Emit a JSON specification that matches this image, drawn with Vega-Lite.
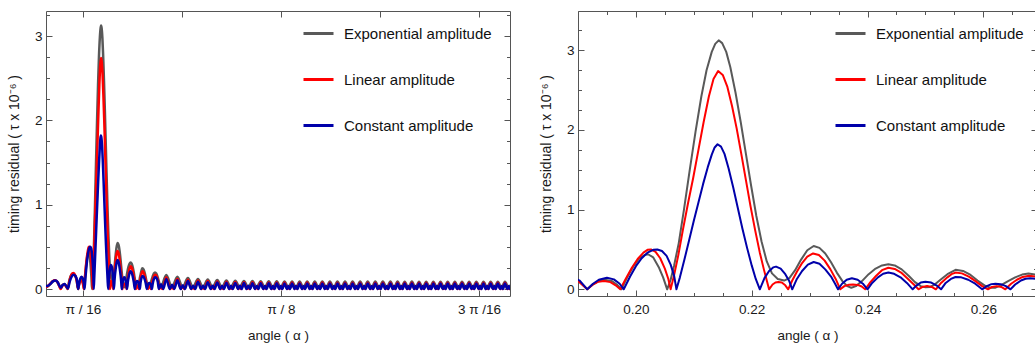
{
"$schema": "https://vega.github.io/schema/vega-lite/v6.json",
"padding": {"left": 6, "top": 10, "right": 0, "bottom": 0},
"config": {
 "font": "Liberation Sans",
 "view": {"stroke": "#555555", "strokeWidth": 1},
 "axis": {"domain": false, "grid": false, "tickColor": "#555555", "tickWidth": 1, "labelFontSize": 13.5, "labelColor": "#1a1a1a", "titleFontSize": 13.5, "titleFontWeight": "normal", "titleColor": "#1a1a1a", "labelFont": "Liberation Sans", "titleFont": "Liberation Sans"},
 "legend": {"labelFont": "Liberation Sans", "labelColor": "#111111"},
 "concat": {"spacing": 27}
},
"datasets": {
"e": [
{"x":0.1585,"y":0.03},{"x":0.161,"y":0.03},{"x":0.164,"y":0.06},{"x":0.1665,"y":0.09},{"x":0.1686,"y":0.1},{"x":0.171,"y":0.08},{"x":0.173,"y":0.035},{"x":0.1742,"y":0.012},{"x":0.176,"y":0.045},{"x":0.1778,"y":0.06},{"x":0.1796,"y":0.035},{"x":0.1812,"y":0},{"x":0.1828,"y":0.1},{"x":0.1848,"y":0.17},{"x":0.1867,"y":0.185},{"x":0.1885,"y":0.16},{"x":0.19,"y":0.115},{"x":0.1916,"y":0},
{"x":0.1925,"y":0.06},{"x":0.1935,"y":0.1},{"x":0.1946,"y":0.12},{"x":0.1958,"y":0.105},{"x":0.1967,"y":0.06},{"x":0.1975,"y":0},
{"x":0.1985,"y":0.15},{"x":0.1995,"y":0.28},{"x":0.2005,"y":0.38},{"x":0.2015,"y":0.43},{"x":0.2021,"y":0.44},{"x":0.203,"y":0.4},{"x":0.204,"y":0.27},{"x":0.2047,"y":0.15},{"x":0.2054,"y":0},
{"x":0.206,"y":0.12},{"x":0.2066,"y":0.3},{"x":0.2074,"y":0.58},{"x":0.2083,"y":1.0},{"x":0.2093,"y":1.5},{"x":0.2103,"y":1.98},{"x":0.2113,"y":2.42},{"x":0.2122,"y":2.75},{"x":0.2131,"y":2.98},{"x":0.2137,"y":3.08},{"x":0.2143,"y":3.125},{"x":0.2149,"y":3.09},{"x":0.2156,"y":2.98},{"x":0.2163,"y":2.79},{"x":0.2172,"y":2.47},{"x":0.2181,"y":2.1},{"x":0.219,"y":1.7},{"x":0.2199,"y":1.3},{"x":0.2208,"y":0.92},{"x":0.2217,"y":0.6},{"x":0.2226,"y":0.35},{"x":0.2235,"y":0.2},{"x":0.2245,"y":0.13},{"x":0.2256,"y":0.11},{"x":0.2265,"y":0.14},
{"x":0.2275,"y":0.24},{"x":0.2285,"y":0.37},{"x":0.2296,"y":0.49},{"x":0.2307,"y":0.544},{"x":0.2317,"y":0.52},{"x":0.2327,"y":0.45},{"x":0.2337,"y":0.34},{"x":0.2347,"y":0.21},{"x":0.2357,"y":0.1},{"x":0.2365,"y":0.04},{"x":0.2372,"y":0.02},{"x":0.238,"y":0.04},
{"x":0.239,"y":0.1},{"x":0.2402,"y":0.19},{"x":0.2414,"y":0.26},{"x":0.2425,"y":0.3},{"x":0.2436,"y":0.314},{"x":0.2447,"y":0.3},{"x":0.2459,"y":0.25},{"x":0.2471,"y":0.17},{"x":0.2482,"y":0.09},{"x":0.2492,"y":0.04},{"x":0.25,"y":0.025},{"x":0.2508,"y":0.03},{"x":0.2516,"y":0.06},
{"x":0.2526,"y":0.12},{"x":0.2538,"y":0.19},{"x":0.2552,"y":0.245},{"x":0.2565,"y":0.23},{"x":0.2578,"y":0.18},{"x":0.259,"y":0.11},{"x":0.2602,"y":0.05},{"x":0.2612,"y":0.02},{"x":0.2621,"y":0.02},{"x":0.263,"y":0.05},
{"x":0.2642,"y":0.1},{"x":0.2655,"y":0.15},{"x":0.2667,"y":0.185},{"x":0.2678,"y":0.197},{"x":0.269,"y":0.185},{"x":0.2702,"y":0.15},{"x":0.2714,"y":0.1},{"x":0.2725,"y":0.05},{"x":0.2735,"y":0.02},
{"x":0.279,"y":0.165},{"x":0.2845,"y":0.02},{"x":0.29,"y":0.145},{"x":0.2952,"y":0.02},{"x":0.3004,"y":0.13},{"x":0.3054,"y":0.02},{"x":0.3104,"y":0.12},{"x":0.3153,"y":0.02},{"x":0.3201,"y":0.112},{"x":0.3248,"y":0.02},{"x":0.3295,"y":0.106},{"x":0.3341,"y":0.02},{"x":0.3386,"y":0.101},{"x":0.343,"y":0.018},{"x":0.3474,"y":0.098},{"x":0.3517,"y":0.018},{"x":0.356,"y":0.096},{"x":0.3602,"y":0.018},{"x":0.3644,"y":0.094},{"x":0.3685,"y":0.018},{"x":0.3726,"y":0.093},{"x":0.3766,"y":0.016},{"x":0.3806,"y":0.092},{"x":0.3846,"y":0.016},{"x":0.3885,"y":0.091},{"x":0.3924,"y":0.016},{"x":0.3962,"y":0.09},{"x":0.4,"y":0.015},{"x":0.4037,"y":0.09},{"x":0.4075,"y":0.015},{"x":0.4112,"y":0.089},{"x":0.415,"y":0.015},{"x":0.4187,"y":0.09},{"x":0.4225,"y":0.015},{"x":0.4262,"y":0.089},{"x":0.43,"y":0.015},{"x":0.4337,"y":0.09},{"x":0.4375,"y":0.015},{"x":0.4412,"y":0.089},{"x":0.445,"y":0.015},{"x":0.4487,"y":0.089},{"x":0.4525,"y":0.015},{"x":0.4562,"y":0.089},{"x":0.46,"y":0.015},{"x":0.4637,"y":0.088},{"x":0.4675,"y":0.015},{"x":0.4712,"y":0.089},{"x":0.475,"y":0.015},{"x":0.4787,"y":0.088},{"x":0.4825,"y":0.015},{"x":0.4862,"y":0.088},{"x":0.49,"y":0.015},{"x":0.4937,"y":0.088},{"x":0.4975,"y":0.015},{"x":0.5012,"y":0.088},{"x":0.5048,"y":0.015},{"x":0.5083,"y":0.088},{"x":0.5119,"y":0.015},{"x":0.5154,"y":0.087},{"x":0.519,"y":0.015},{"x":0.5225,"y":0.088},{"x":0.5261,"y":0.015},{"x":0.5296,"y":0.087},{"x":0.5332,"y":0.015},{"x":0.5367,"y":0.087},{"x":0.5403,"y":0.015},{"x":0.5438,"y":0.087},{"x":0.5474,"y":0.015},{"x":0.5509,"y":0.087},{"x":0.5545,"y":0.015},{"x":0.558,"y":0.087},{"x":0.5616,"y":0.015},{"x":0.5651,"y":0.087},{"x":0.5687,"y":0.015},{"x":0.5722,"y":0.086},{"x":0.5758,"y":0.015},{"x":0.5793,"y":0.087},{"x":0.5829,"y":0.015},{"x":0.5864,"y":0.086},{"x":0.59,"y":0.015},{"x":0.5935,"y":0.086},{"x":0.5971,"y":0.015},{"x":0.6006,"y":0.086},{"x":0.6042,"y":0.015},{"x":0.6077,"y":0.086},{"x":0.6113,"y":0.015},{"x":0.6148,"y":0.086},{"x":0.6184,"y":0.015},{"x":0.6219,"y":0.086}
],
"l": [
{"x":0.1585,"y":0.02},{"x":0.161,"y":0.03},{"x":0.164,"y":0.065},{"x":0.1665,"y":0.095},{"x":0.1688,"y":0.105},{"x":0.1712,"y":0.08},{"x":0.173,"y":0.03},{"x":0.1742,"y":0},{"x":0.176,"y":0.04},{"x":0.1778,"y":0.055},{"x":0.1796,"y":0.03},{"x":0.1812,"y":0},{"x":0.183,"y":0.1},{"x":0.185,"y":0.17},{"x":0.1868,"y":0.19},{"x":0.1887,"y":0.16},{"x":0.1901,"y":0.1},{"x":0.1916,"y":0},
{"x":0.1925,"y":0.055},{"x":0.1935,"y":0.095},{"x":0.1945,"y":0.105},{"x":0.1956,"y":0.09},{"x":0.1965,"y":0.05},{"x":0.1973,"y":0},
{"x":0.1983,"y":0.14},{"x":0.1993,"y":0.27},{"x":0.2003,"y":0.38},{"x":0.2013,"y":0.46},{"x":0.202,"y":0.495},{"x":0.2026,"y":0.5},{"x":0.2034,"y":0.47},{"x":0.2042,"y":0.39},{"x":0.205,"y":0.26},{"x":0.2056,"y":0.13},{"x":0.206,"y":0},
{"x":0.2066,"y":0.18},{"x":0.2073,"y":0.42},{"x":0.2081,"y":0.74},{"x":0.209,"y":1.08},{"x":0.2099,"y":1.4},{"x":0.2108,"y":1.75},{"x":0.2117,"y":2.1},{"x":0.2126,"y":2.42},{"x":0.2134,"y":2.64},{"x":0.2142,"y":2.74},{"x":0.215,"y":2.69},{"x":0.2158,"y":2.54},{"x":0.2166,"y":2.3},{"x":0.2174,"y":2.02},{"x":0.2182,"y":1.7},{"x":0.219,"y":1.37},{"x":0.2198,"y":1.04},{"x":0.2206,"y":0.74},{"x":0.2214,"y":0.46},{"x":0.2221,"y":0.25},{"x":0.2226,"y":0.11},{"x":0.223,"y":0},
{"x":0.2236,"y":0.06},{"x":0.2241,"y":0.085},{"x":0.2246,"y":0.092},{"x":0.2252,"y":0.085},{"x":0.2258,"y":0.05},{"x":0.2263,"y":0},
{"x":0.227,"y":0.11},{"x":0.2278,"y":0.22},{"x":0.2287,"y":0.33},{"x":0.2296,"y":0.41},{"x":0.2306,"y":0.45},{"x":0.2316,"y":0.43},{"x":0.2326,"y":0.36},{"x":0.2336,"y":0.25},{"x":0.2345,"y":0.13},{"x":0.2353,"y":0},
{"x":0.236,"y":0.04},{"x":0.2368,"y":0.057},{"x":0.2375,"y":0.06},{"x":0.2383,"y":0.055},{"x":0.239,"y":0.035},{"x":0.2396,"y":0},
{"x":0.2405,"y":0.09},{"x":0.2415,"y":0.17},{"x":0.2425,"y":0.24},{"x":0.2436,"y":0.27},{"x":0.2447,"y":0.255},{"x":0.2458,"y":0.21},{"x":0.247,"y":0.13},{"x":0.248,"y":0.06},{"x":0.2488,"y":0},
{"x":0.2495,"y":0.03},{"x":0.2503,"y":0.042},{"x":0.2511,"y":0.03},{"x":0.2518,"y":0},
{"x":0.2527,"y":0.08},{"x":0.2538,"y":0.15},{"x":0.2545,"y":0.19},{"x":0.2552,"y":0.21},{"x":0.2563,"y":0.2},{"x":0.2575,"y":0.16},{"x":0.2587,"y":0.1},{"x":0.2598,"y":0.04},{"x":0.2608,"y":0},
{"x":0.2615,"y":0.03},{"x":0.2623,"y":0.04},{"x":0.2631,"y":0.03},{"x":0.2638,"y":0},
{"x":0.2648,"y":0.07},{"x":0.2658,"y":0.12},{"x":0.2668,"y":0.155},{"x":0.2679,"y":0.17},{"x":0.269,"y":0.16},{"x":0.2702,"y":0.12},{"x":0.2713,"y":0.06},{"x":0.272,"y":0},{"x":0.2734,"y":0.035},{"x":0.2751,"y":0},
{"x":0.279,"y":0.14},{"x":0.2829,"y":0},{"x":0.2845,"y":0.035},{"x":0.2862,"y":0},
{"x":0.29,"y":0.123},{"x":0.2936,"y":0},{"x":0.2952,"y":0.032},{"x":0.2968,"y":0},
{"x":0.3004,"y":0.11},{"x":0.3039,"y":0},{"x":0.3054,"y":0.03},{"x":0.3069,"y":0},
{"x":0.3104,"y":0.102},{"x":0.3138,"y":0},{"x":0.3153,"y":0.03},{"x":0.3167,"y":0},
{"x":0.3201,"y":0.095},{"x":0.3234,"y":0},{"x":0.3248,"y":0.03},{"x":0.3262,"y":0},
{"x":0.3295,"y":0.09},{"x":0.3327,"y":0},{"x":0.3341,"y":0.03},{"x":0.3354,"y":0},
{"x":0.3386,"y":0.086},{"x":0.3417,"y":0},{"x":0.343,"y":0.03},{"x":0.3443,"y":0},
{"x":0.3474,"y":0.083},{"x":0.3504,"y":0},{"x":0.3517,"y":0.03},{"x":0.353,"y":0},
{"x":0.356,"y":0.081},{"x":0.3589,"y":0},{"x":0.3602,"y":0.03},{"x":0.3615,"y":0},
{"x":0.3644,"y":0.08},{"x":0.3673,"y":0},{"x":0.3685,"y":0.03},{"x":0.3697,"y":0},
{"x":0.3726,"y":0.079},{"x":0.3754,"y":0},{"x":0.3766,"y":0.03},{"x":0.3778,"y":0},
{"x":0.3806,"y":0.078},{"x":0.3834,"y":0},{"x":0.3846,"y":0.03},{"x":0.3857,"y":0},
{"x":0.3885,"y":0.077},{"x":0.3912,"y":0},{"x":0.3924,"y":0.03},{"x":0.3935,"y":0},
{"x":0.3962,"y":0.076},{"x":0.3988,"y":0},{"x":0.4,"y":0.03},{"x":0.4011,"y":0},
{"x":0.4037,"y":0.076},{"x":0.4063,"y":0},{"x":0.4075,"y":0.03},{"x":0.4086,"y":0},
{"x":0.4112,"y":0.075},{"x":0.4138,"y":0},{"x":0.415,"y":0.03},{"x":0.4161,"y":0},
{"x":0.4187,"y":0.076},{"x":0.4213,"y":0},{"x":0.4225,"y":0.03},{"x":0.4236,"y":0},
{"x":0.4262,"y":0.075},{"x":0.4288,"y":0},{"x":0.43,"y":0.03},{"x":0.4311,"y":0},
{"x":0.4337,"y":0.076},{"x":0.4363,"y":0},{"x":0.4375,"y":0.03},{"x":0.4386,"y":0},
{"x":0.4412,"y":0.075},{"x":0.4438,"y":0},{"x":0.445,"y":0.03},{"x":0.4461,"y":0},
{"x":0.4487,"y":0.075},{"x":0.4513,"y":0},{"x":0.4525,"y":0.03},{"x":0.4536,"y":0},
{"x":0.4562,"y":0.075},{"x":0.4588,"y":0},{"x":0.46,"y":0.03},{"x":0.4611,"y":0},
{"x":0.4637,"y":0.075},{"x":0.4663,"y":0},{"x":0.4675,"y":0.03},{"x":0.4686,"y":0},
{"x":0.4712,"y":0.075},{"x":0.4738,"y":0},{"x":0.475,"y":0.03},{"x":0.4761,"y":0},
{"x":0.4787,"y":0.075},{"x":0.4813,"y":0},{"x":0.4825,"y":0.03},{"x":0.4836,"y":0},
{"x":0.4862,"y":0.075},{"x":0.4888,"y":0},{"x":0.49,"y":0.03},{"x":0.4911,"y":0},
{"x":0.4937,"y":0.075},{"x":0.4963,"y":0},{"x":0.4975,"y":0.03},{"x":0.4986,"y":0},
{"x":0.5012,"y":0.075},{"x":0.5037,"y":0},{"x":0.5048,"y":0.03},{"x":0.5058,"y":0},
{"x":0.5083,"y":0.075},{"x":0.5108,"y":0},{"x":0.5119,"y":0.03},{"x":0.5129,"y":0},
{"x":0.5154,"y":0.074},{"x":0.5179,"y":0},{"x":0.519,"y":0.03},{"x":0.52,"y":0},
{"x":0.5225,"y":0.075},{"x":0.525,"y":0},{"x":0.5261,"y":0.03},{"x":0.5271,"y":0},
{"x":0.5296,"y":0.074},{"x":0.5321,"y":0},{"x":0.5332,"y":0.03},{"x":0.5342,"y":0},
{"x":0.5367,"y":0.074},{"x":0.5392,"y":0},{"x":0.5403,"y":0.03},{"x":0.5413,"y":0},
{"x":0.5438,"y":0.074},{"x":0.5463,"y":0},{"x":0.5474,"y":0.03},{"x":0.5484,"y":0},
{"x":0.5509,"y":0.074},{"x":0.5534,"y":0},{"x":0.5545,"y":0.03},{"x":0.5555,"y":0},
{"x":0.558,"y":0.074},{"x":0.5605,"y":0},{"x":0.5616,"y":0.03},{"x":0.5626,"y":0},
{"x":0.5651,"y":0.074},{"x":0.5676,"y":0},{"x":0.5687,"y":0.03},{"x":0.5697,"y":0},
{"x":0.5722,"y":0.073},{"x":0.5747,"y":0},{"x":0.5758,"y":0.03},{"x":0.5768,"y":0},
{"x":0.5793,"y":0.074},{"x":0.5818,"y":0},{"x":0.5829,"y":0.03},{"x":0.5839,"y":0},
{"x":0.5864,"y":0.073},{"x":0.5889,"y":0},{"x":0.59,"y":0.03},{"x":0.591,"y":0},
{"x":0.5935,"y":0.073},{"x":0.596,"y":0},{"x":0.5971,"y":0.03},{"x":0.5981,"y":0},
{"x":0.6006,"y":0.073},{"x":0.6031,"y":0},{"x":0.6042,"y":0.03},{"x":0.6052,"y":0},
{"x":0.6077,"y":0.073},{"x":0.6102,"y":0},{"x":0.6113,"y":0.03},{"x":0.6123,"y":0},
{"x":0.6148,"y":0.073},{"x":0.6173,"y":0},{"x":0.6184,"y":0.03},{"x":0.6194,"y":0},
{"x":0.6219,"y":0.073}
],
"c": [
{"x":0.1585,"y":0.035},{"x":0.161,"y":0.035},{"x":0.164,"y":0.06},{"x":0.1665,"y":0.09},{"x":0.169,"y":0.1},{"x":0.1713,"y":0.08},{"x":0.1732,"y":0.035},{"x":0.1744,"y":0.015},{"x":0.1762,"y":0.045},{"x":0.178,"y":0.06},{"x":0.1798,"y":0.035},{"x":0.1814,"y":0.005},{"x":0.1833,"y":0.09},{"x":0.1853,"y":0.15},{"x":0.1871,"y":0.17},{"x":0.1889,"y":0.155},{"x":0.1903,"y":0.11},{"x":0.1916,"y":0},
{"x":0.1926,"y":0.07},{"x":0.1936,"y":0.12},{"x":0.195,"y":0.146},{"x":0.1962,"y":0.125},{"x":0.1972,"y":0.07},{"x":0.1979,"y":0},
{"x":0.199,"y":0.16},{"x":0.2,"y":0.29},{"x":0.201,"y":0.39},{"x":0.202,"y":0.46},{"x":0.203,"y":0.495},{"x":0.2037,"y":0.5},{"x":0.2045,"y":0.48},{"x":0.2053,"y":0.42},{"x":0.206,"y":0.31},{"x":0.2066,"y":0.17},{"x":0.207,"y":0},
{"x":0.2076,"y":0.15},{"x":0.2084,"y":0.38},{"x":0.2092,"y":0.62},{"x":0.21,"y":0.86},{"x":0.2108,"y":1.09},{"x":0.2116,"y":1.32},{"x":0.2124,"y":1.53},{"x":0.2131,"y":1.69},{"x":0.2136,"y":1.78},{"x":0.2141,"y":1.82},{"x":0.2147,"y":1.79},{"x":0.2153,"y":1.7},{"x":0.216,"y":1.52},{"x":0.2168,"y":1.28},{"x":0.2176,"y":1.02},{"x":0.2184,"y":0.76},{"x":0.2192,"y":0.52},{"x":0.22,"y":0.3},{"x":0.2207,"y":0.13},{"x":0.2214,"y":0},
{"x":0.2222,"y":0.14},{"x":0.223,"y":0.23},{"x":0.2237,"y":0.275},{"x":0.2242,"y":0.285},{"x":0.225,"y":0.26},{"x":0.2258,"y":0.19},{"x":0.2265,"y":0.1},{"x":0.227,"y":0},
{"x":0.2278,"y":0.13},{"x":0.2287,"y":0.23},{"x":0.2297,"y":0.31},{"x":0.2307,"y":0.343},{"x":0.2317,"y":0.32},{"x":0.2327,"y":0.25},{"x":0.2337,"y":0.16},{"x":0.2344,"y":0.07},{"x":0.2349,"y":0},
{"x":0.2356,"y":0.07},{"x":0.2364,"y":0.12},{"x":0.2373,"y":0.138},{"x":0.2383,"y":0.12},{"x":0.2392,"y":0.07},{"x":0.24,"y":0},
{"x":0.2408,"y":0.08},{"x":0.2418,"y":0.15},{"x":0.2427,"y":0.195},{"x":0.2436,"y":0.21},{"x":0.2446,"y":0.195},{"x":0.2457,"y":0.15},{"x":0.2468,"y":0.08},{"x":0.2478,"y":0},
{"x":0.2485,"y":0.05},{"x":0.2492,"y":0.085},{"x":0.25,"y":0.096},{"x":0.251,"y":0.085},{"x":0.2519,"y":0.05},{"x":0.2527,"y":0},
{"x":0.2535,"y":0.08},{"x":0.2544,"y":0.13},{"x":0.2552,"y":0.155},{"x":0.2562,"y":0.15},{"x":0.2574,"y":0.12},{"x":0.2586,"y":0.07},{"x":0.2598,"y":0},
{"x":0.2606,"y":0.04},{"x":0.2614,"y":0.065},{"x":0.2621,"y":0.071},{"x":0.263,"y":0.065},{"x":0.2639,"y":0.04},{"x":0.2647,"y":0},
{"x":0.2655,"y":0.06},{"x":0.2665,"y":0.11},{"x":0.2673,"y":0.132},{"x":0.2681,"y":0.138},{"x":0.2692,"y":0.13},{"x":0.2705,"y":0.09},{"x":0.2716,"y":0},{"x":0.2738,"y":0.055},{"x":0.2759,"y":0},
{"x":0.279,"y":0.12},{"x":0.2825,"y":0},{"x":0.2847,"y":0.05},{"x":0.2869,"y":0},
{"x":0.29,"y":0.105},{"x":0.2933,"y":0},{"x":0.2954,"y":0.045},{"x":0.2975,"y":0},
{"x":0.3004,"y":0.094},{"x":0.3036,"y":0},{"x":0.3056,"y":0.04},{"x":0.3076,"y":0},
{"x":0.3104,"y":0.087},{"x":0.3135,"y":0},{"x":0.3154,"y":0.04},{"x":0.3174,"y":0},
{"x":0.3201,"y":0.081},{"x":0.3231,"y":0},{"x":0.325,"y":0.04},{"x":0.3269,"y":0},
{"x":0.3295,"y":0.077},{"x":0.3324,"y":0},{"x":0.3342,"y":0.04},{"x":0.3361,"y":0},
{"x":0.3386,"y":0.074},{"x":0.3414,"y":0},{"x":0.3432,"y":0.04},{"x":0.3449,"y":0},
{"x":0.3474,"y":0.072},{"x":0.3502,"y":0},{"x":0.3519,"y":0.038},{"x":0.3536,"y":0},
{"x":0.356,"y":0.07},{"x":0.3587,"y":0},{"x":0.3604,"y":0.038},{"x":0.362,"y":0},
{"x":0.3644,"y":0.069},{"x":0.367,"y":0},{"x":0.3687,"y":0.037},{"x":0.3703,"y":0},
{"x":0.3726,"y":0.068},{"x":0.3752,"y":0},{"x":0.3768,"y":0.036},{"x":0.3784,"y":0},
{"x":0.3806,"y":0.067},{"x":0.3831,"y":0},{"x":0.3847,"y":0.036},{"x":0.3863,"y":0},
{"x":0.3885,"y":0.067},{"x":0.391,"y":0},{"x":0.3925,"y":0.035},{"x":0.394,"y":0},
{"x":0.3962,"y":0.066},{"x":0.3986,"y":0},{"x":0.4001,"y":0.035},{"x":0.4016,"y":0},
{"x":0.4037,"y":0.066},{"x":0.4061,"y":0},{"x":0.4076,"y":0.035},{"x":0.4091,"y":0},
{"x":0.4112,"y":0.066},{"x":0.4136,"y":0},{"x":0.4151,"y":0.035},{"x":0.4166,"y":0},
{"x":0.4187,"y":0.066},{"x":0.4211,"y":0},{"x":0.4226,"y":0.035},{"x":0.4241,"y":0},
{"x":0.4262,"y":0.066},{"x":0.4286,"y":0},{"x":0.4301,"y":0.035},{"x":0.4316,"y":0},
{"x":0.4337,"y":0.066},{"x":0.4361,"y":0},{"x":0.4376,"y":0.035},{"x":0.4391,"y":0},
{"x":0.4412,"y":0.066},{"x":0.4436,"y":0},{"x":0.4451,"y":0.035},{"x":0.4466,"y":0},
{"x":0.4487,"y":0.065},{"x":0.4511,"y":0},{"x":0.4526,"y":0.035},{"x":0.4541,"y":0},
{"x":0.4562,"y":0.065},{"x":0.4586,"y":0},{"x":0.4601,"y":0.035},{"x":0.4616,"y":0},
{"x":0.4637,"y":0.065},{"x":0.4661,"y":0},{"x":0.4676,"y":0.035},{"x":0.4691,"y":0},
{"x":0.4712,"y":0.065},{"x":0.4736,"y":0},{"x":0.4751,"y":0.035},{"x":0.4766,"y":0},
{"x":0.4787,"y":0.065},{"x":0.4811,"y":0},{"x":0.4826,"y":0.035},{"x":0.4841,"y":0},
{"x":0.4862,"y":0.065},{"x":0.4886,"y":0},{"x":0.4901,"y":0.035},{"x":0.4916,"y":0},
{"x":0.4937,"y":0.065},{"x":0.4961,"y":0},{"x":0.4976,"y":0.035},{"x":0.4991,"y":0},
{"x":0.5012,"y":0.065},{"x":0.5035,"y":0},{"x":0.5049,"y":0.035},{"x":0.5063,"y":0},
{"x":0.5083,"y":0.065},{"x":0.5106,"y":0},{"x":0.512,"y":0.035},{"x":0.5134,"y":0},
{"x":0.5154,"y":0.065},{"x":0.5177,"y":0},{"x":0.5191,"y":0.035},{"x":0.5205,"y":0},
{"x":0.5225,"y":0.065},{"x":0.5248,"y":0},{"x":0.5262,"y":0.035},{"x":0.5276,"y":0},
{"x":0.5296,"y":0.065},{"x":0.5319,"y":0},{"x":0.5333,"y":0.035},{"x":0.5347,"y":0},
{"x":0.5367,"y":0.065},{"x":0.539,"y":0},{"x":0.5404,"y":0.035},{"x":0.5418,"y":0},
{"x":0.5438,"y":0.064},{"x":0.5461,"y":0},{"x":0.5475,"y":0.035},{"x":0.5489,"y":0},
{"x":0.5509,"y":0.064},{"x":0.5532,"y":0},{"x":0.5546,"y":0.035},{"x":0.556,"y":0},
{"x":0.558,"y":0.064},{"x":0.5603,"y":0},{"x":0.5617,"y":0.035},{"x":0.5631,"y":0},
{"x":0.5651,"y":0.064},{"x":0.5674,"y":0},{"x":0.5688,"y":0.035},{"x":0.5702,"y":0},
{"x":0.5722,"y":0.064},{"x":0.5745,"y":0},{"x":0.5759,"y":0.035},{"x":0.5773,"y":0},
{"x":0.5793,"y":0.064},{"x":0.5816,"y":0},{"x":0.583,"y":0.035},{"x":0.5844,"y":0},
{"x":0.5864,"y":0.064},{"x":0.5887,"y":0},{"x":0.5901,"y":0.035},{"x":0.5915,"y":0},
{"x":0.5935,"y":0.064},{"x":0.5958,"y":0},{"x":0.5972,"y":0.035},{"x":0.5986,"y":0},
{"x":0.6006,"y":0.064},{"x":0.6029,"y":0},{"x":0.6043,"y":0.035},{"x":0.6057,"y":0},
{"x":0.6077,"y":0.064},{"x":0.61,"y":0},{"x":0.6114,"y":0.035},{"x":0.6128,"y":0},
{"x":0.6148,"y":0.064},{"x":0.6171,"y":0},{"x":0.6185,"y":0.035},{"x":0.6199,"y":0},
{"x":0.6219,"y":0.064}
]
},
"resolve": {"legend": {"color": "independent"}},
"hconcat": [
{
 "width": 464, "height": 285,
 "resolve": {"axis": {"x": "independent", "y": "independent"}},
 "layer": [
  {"data": {"name": "e"}, "mark": {"type": "line", "interpolate": "monotone", "strokeWidth": 2.5, "strokeJoin": "round", "clip": true},
   "encoding": {
    "x": {"field": "x", "type": "quantitative", "scale": {"domain": [0.1597, 0.6198], "nice": false, "zero": false},
      "axis": {"orient": "bottom", "values": [0.19635, 0.29452, 0.3927, 0.49087, 0.58905], "labelExpr": "abs(datum.value-0.19635)<0.001 ? 'π / 16' : abs(datum.value-0.3927)<0.001 ? 'π / 8' : abs(datum.value-0.58905)<0.001 ? '3 π /16' : ''", "tickSize": -6, "labelPadding": 12, "labelFlush": false, "labelOverlap": false, "title": "angle  ( α )", "titlePadding": 13}},
    "y": {"field": "y", "type": "quantitative", "scale": {"domain": [-0.083, 3.2965], "nice": false, "zero": false},
      "axis": {"orient": "left", "values": [0, 1, 2, 3], "tickSize": -6, "labelPadding": 10, "labelFlush": false, "title": "timing residual  ( τ x 10⁻⁶ )", "titleFontSize": 14, "titlePadding": 13}},
    "color": {"datum": "Exponential amplitude", "type": "nominal",
      "scale": {"domain": ["Exponential amplitude", "Linear amplitude", "Constant amplitude"], "range": ["#595959", "#ff0000", "#0000aa"]},
      "legend": {"orient": "none", "legendX": 256, "legendY": 15, "title": null, "symbolType": "stroke", "symbolSize": 900, "symbolStrokeWidth": 3, "labelFontSize": 15, "labelOffset": 9, "rowPadding": 30, "clipHeight": 15, "padding": 0}}
   }},
  {"data": {"name": "l"}, "mark": {"type": "line", "interpolate": "monotone", "strokeWidth": 2.5, "strokeJoin": "round", "clip": true},
   "encoding": {"x": {"field": "x", "type": "quantitative", "axis": null}, "y": {"field": "y", "type": "quantitative", "axis": null}, "color": {"datum": "Linear amplitude", "type": "nominal"}}},
  {"data": {"name": "c"}, "mark": {"type": "line", "interpolate": "monotone", "strokeWidth": 2.5, "strokeJoin": "round", "clip": true},
   "encoding": {"x": {"field": "x", "type": "quantitative", "axis": null}, "y": {"field": "y", "type": "quantitative", "axis": null}, "color": {"datum": "Constant amplitude", "type": "nominal"}}},
  {"data": {"name": "e"}, "mark": {"type": "point", "opacity": 0, "clip": true},
   "encoding": {"x": {"field": "x", "type": "quantitative", "axis": {"orient": "top", "values": [0.19635, 0.29452, 0.3927, 0.49087, 0.58905], "tickSize": -6, "labels": false, "title": null}},
                "y": {"field": "y", "type": "quantitative", "axis": {"orient": "right", "values": [0, 1, 2, 3], "tickSize": -6, "labels": false, "title": null}}}},
  {"data": {"name": "e"}, "mark": {"type": "point", "opacity": 0, "clip": true},
   "encoding": {"x": {"field": "x", "type": "quantitative", "axis": null},
                "y": {"field": "y", "type": "quantitative", "axis": {"orient": "left", "values": [0.25, 0.5, 0.75, 1.25, 1.5, 1.75, 2.25, 2.5, 2.75, 3.25], "tickSize": -3.5, "labels": false, "title": null}}}},
  {"data": {"name": "e"}, "mark": {"type": "point", "opacity": 0, "clip": true},
   "encoding": {"x": {"field": "x", "type": "quantitative", "axis": null},
                "y": {"field": "y", "type": "quantitative", "axis": {"orient": "right", "values": [0.25, 0.5, 0.75, 1.25, 1.5, 1.75, 2.25, 2.5, 2.75, 3.25], "tickSize": -3.5, "labels": false, "title": null}}}}
 ]
},
{
 "width": 459, "height": 285,
 "resolve": {"axis": {"x": "independent", "y": "independent"}},
 "layer": [
  {"data": {"name": "e"}, "mark": {"type": "line", "strokeWidth": 2, "strokeJoin": "round", "clip": true},
   "encoding": {
    "x": {"field": "x", "type": "quantitative", "scale": {"domain": [0.19, 0.26927], "nice": false, "zero": false},
      "axis": {"orient": "bottom", "values": [0.2, 0.22, 0.24, 0.26], "format": ".2f", "tickSize": -6, "labelPadding": 12, "labelFlush": false, "title": "angle  ( α )", "titlePadding": 13}},
    "y": {"field": "y", "type": "quantitative", "scale": {"domain": [-0.084, 3.493], "nice": false, "zero": false},
      "axis": {"orient": "left", "values": [0, 1, 2, 3], "tickSize": -6, "labelPadding": 10, "labelFlush": false, "title": "timing residual  ( τ x 10⁻⁶ )", "titleFontSize": 14, "titlePadding": 13}},
    "color": {"datum": "Exponential amplitude", "type": "nominal",
      "scale": {"domain": ["Exponential amplitude", "Linear amplitude", "Constant amplitude"], "range": ["#595959", "#ff0000", "#0000aa"]},
      "legend": {"orient": "none", "legendX": 256, "legendY": 15, "title": null, "symbolType": "stroke", "symbolSize": 900, "symbolStrokeWidth": 3, "labelFontSize": 15, "labelOffset": 9, "rowPadding": 30, "clipHeight": 15, "padding": 0}}
   }},
  {"data": {"name": "l"}, "mark": {"type": "line", "strokeWidth": 2, "strokeJoin": "round", "clip": true},
   "encoding": {"x": {"field": "x", "type": "quantitative", "axis": null}, "y": {"field": "y", "type": "quantitative", "axis": null}, "color": {"datum": "Linear amplitude", "type": "nominal"}}},
  {"data": {"name": "c"}, "mark": {"type": "line", "strokeWidth": 2, "strokeJoin": "round", "clip": true},
   "encoding": {"x": {"field": "x", "type": "quantitative", "axis": null}, "y": {"field": "y", "type": "quantitative", "axis": null}, "color": {"datum": "Constant amplitude", "type": "nominal"}}},
  {"data": {"name": "e"}, "mark": {"type": "point", "opacity": 0, "clip": true},
   "encoding": {"x": {"field": "x", "type": "quantitative", "axis": {"orient": "top", "values": [0.2, 0.22, 0.24, 0.26], "tickSize": -6, "labels": false, "title": null}},
                "y": {"field": "y", "type": "quantitative", "axis": {"orient": "right", "values": [0, 1, 2, 3], "tickSize": -6, "labels": false, "title": null}}}},
  {"data": {"name": "e"}, "mark": {"type": "point", "opacity": 0, "clip": true},
   "encoding": {"x": {"field": "x", "type": "quantitative", "axis": {"orient": "bottom", "values": [0.19, 0.195, 0.205, 0.21, 0.215, 0.225, 0.23, 0.235, 0.245, 0.25, 0.255, 0.265], "tickSize": -3.5, "labels": false, "title": null}},
                "y": {"field": "y", "type": "quantitative", "axis": {"orient": "left", "values": [0.25, 0.5, 0.75, 1.25, 1.5, 1.75, 2.25, 2.5, 2.75, 3.25], "tickSize": -3.5, "labels": false, "title": null}}}},
  {"data": {"name": "e"}, "mark": {"type": "point", "opacity": 0, "clip": true},
   "encoding": {"x": {"field": "x", "type": "quantitative", "axis": {"orient": "top", "values": [0.19, 0.195, 0.205, 0.21, 0.215, 0.225, 0.23, 0.235, 0.245, 0.25, 0.255, 0.265], "tickSize": -3.5, "labels": false, "title": null}},
                "y": {"field": "y", "type": "quantitative", "axis": {"orient": "right", "values": [0.25, 0.5, 0.75, 1.25, 1.5, 1.75, 2.25, 2.5, 2.75, 3.25], "tickSize": -3.5, "labels": false, "title": null}}}}
 ]
}
]
}
